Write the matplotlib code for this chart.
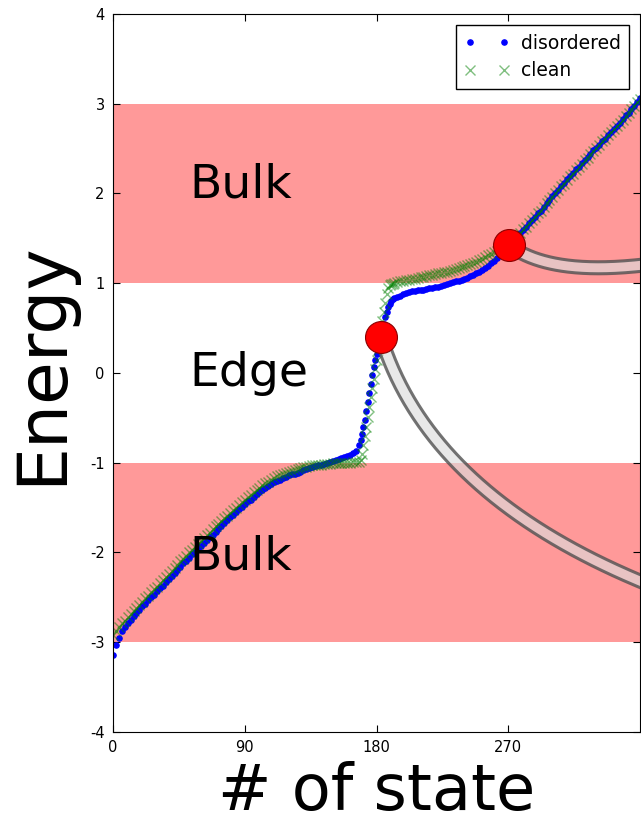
import numpy as np
import matplotlib
matplotlib.use("Agg")
import matplotlib.pyplot as plt
from matplotlib.patches import Polygon

# energies of each state
# lower bulk: states 0..166 every 2, edge: 168..191 every 1, upper bulk: 192..360 every 2
dis_low = [-3.14, -3.03, -2.95, -2.88, -2.83, -2.79, -2.75, -2.71, -2.67, -2.64,
           -2.60, -2.57, -2.53, -2.50, -2.47, -2.43, -2.40, -2.37, -2.33, -2.30,
           -2.26, -2.23, -2.19, -2.16, -2.12, -2.09, -2.06, -2.02, -1.99, -1.96,
           -1.93, -1.89, -1.86, -1.83, -1.80, -1.77, -1.74, -1.71, -1.67, -1.64,
           -1.61, -1.58, -1.55, -1.52, -1.49, -1.46, -1.43, -1.41, -1.38, -1.35,
           -1.33, -1.30, -1.28, -1.26, -1.24, -1.22, -1.20, -1.19, -1.17, -1.16,
           -1.14, -1.13, -1.12, -1.11, -1.10, -1.08, -1.07, -1.06, -1.05, -1.04,
           -1.03, -1.02, -1.01, -1.00, -0.99, -0.98, -0.97, -0.96, -0.95, -0.94,
           -0.92, -0.91, -0.89, -0.87]
dis_edge = [-0.80, -0.75, -0.68, -0.60, -0.52, -0.42, -0.32, -0.22, -0.12, -0.02,
            0.07, 0.14, 0.21, 0.28, 0.34, 0.40, 0.47, 0.55, 0.62, 0.68,
            0.73, 0.77, 0.80, 0.82]
dis_high = [0.83, 0.85, 0.86, 0.88, 0.89, 0.90, 0.91, 0.91, 0.92, 0.93,
            0.93, 0.94, 0.95, 0.95, 0.96, 0.96, 0.97, 0.98, 0.99, 1.00,
            1.01, 1.02, 1.03, 1.04, 1.05, 1.06, 1.08, 1.09, 1.11, 1.13,
            1.15, 1.17, 1.19, 1.22, 1.25, 1.28, 1.31, 1.34, 1.38, 1.42,
            1.45, 1.49, 1.52, 1.56, 1.59, 1.63, 1.67, 1.70, 1.74, 1.78,
            1.81, 1.85, 1.89, 1.93, 1.97, 2.01, 2.04, 2.08, 2.12, 2.16,
            2.19, 2.23, 2.27, 2.30, 2.34, 2.37, 2.41, 2.44, 2.48, 2.51,
            2.54, 2.58, 2.61, 2.65, 2.68, 2.72, 2.75, 2.79, 2.83, 2.87,
            2.90, 2.94, 2.98, 3.02, 3.06]

cln_low = [-2.92, -2.87, -2.83, -2.79, -2.76, -2.72, -2.69, -2.65, -2.62, -2.58,
           -2.55, -2.51, -2.48, -2.44, -2.41, -2.38, -2.34, -2.31, -2.27, -2.24,
           -2.21, -2.17, -2.14, -2.10, -2.07, -2.04, -2.00, -1.97, -1.94, -1.90,
           -1.87, -1.84, -1.81, -1.78, -1.74, -1.71, -1.68, -1.65, -1.62, -1.59,
           -1.56, -1.53, -1.50, -1.47, -1.44, -1.41, -1.38, -1.36, -1.33, -1.30,
           -1.28, -1.25, -1.23, -1.21, -1.19, -1.17, -1.15, -1.14, -1.12, -1.11,
           -1.10, -1.09, -1.08, -1.07, -1.06, -1.05, -1.05, -1.04, -1.03, -1.03,
           -1.02, -1.02, -1.01, -1.01, -1.01, -1.00, -1.00, -1.00, -1.00, -1.00,
           -1.00, -1.00, -0.99, -0.99]
cln_edge = [-0.99, -0.97, -0.90, -0.80, -0.70, -0.60, -0.49, -0.38, -0.27, -0.17,
            -0.07, 0.04, 0.15, 0.26, 0.37, 0.48, 0.58, 0.68, 0.78, 0.88,
            0.95, 0.98, 0.99, 0.99]
cln_high = [1.00, 1.01, 1.02, 1.03, 1.04, 1.04, 1.05, 1.05, 1.06, 1.07,
            1.07, 1.08, 1.09, 1.09, 1.10, 1.11, 1.11, 1.12, 1.13, 1.14,
            1.15, 1.16, 1.17, 1.18, 1.19, 1.20, 1.21, 1.23, 1.24, 1.26,
            1.27, 1.29, 1.31, 1.33, 1.35, 1.36, 1.38, 1.40, 1.42, 1.44,
            1.46, 1.49, 1.53, 1.56, 1.60, 1.63, 1.67, 1.70, 1.74, 1.78,
            1.81, 1.85, 1.89, 1.93, 1.96, 2.00, 2.04, 2.08, 2.11, 2.15,
            2.19, 2.22, 2.26, 2.30, 2.33, 2.37, 2.40, 2.44, 2.47, 2.51,
            2.54, 2.58, 2.61, 2.65, 2.68, 2.72, 2.75, 2.79, 2.82, 2.86,
            2.90, 2.94, 2.98, 3.02, 3.05]

states = np.concatenate([np.arange(0, 168, 2), np.arange(168, 192, 1), np.arange(192, 361, 2)])
disordered = np.array(dis_low + dis_edge + dis_high)
clean = np.array(cln_low + cln_edge + cln_high)

# highlighted states (red dots)
hl_state = [182.7, 270.2]
hl_energy = [0.40, 1.43]

# guide bands leaving the highlighted states: start, control, end (data units)
band_lo = [(183, 0.40), (218, -1.45), (380, -2.45)]
band_hi = [(270, 1.43), (300, 1.05), (375, 1.23)]

plt.rcParams['font.family'] = 'DejaVu Sans'
plt.rcParams['axes.unicode_minus'] = False

fig = plt.figure(figsize=(6.41, 8.22), dpi=100)
ax = fig.add_axes([0.1763, 0.1095, 0.8225, 0.8735])

ax.axhspan(1, 3, color='red', alpha=0.4, lw=0)
ax.axhspan(-3, -1, color='red', alpha=0.4, lw=0)

ax.plot(states, disordered, 'b.', markersize=7.5, label='disordered')
ax.plot(states, clean, 'x', color='green', alpha=0.5, markersize=7, mew=1, label='clean')

ax.set_xlim(0, 360)
ax.set_ylim(-4, 4)


def draw_band(ctrl, width=12):
    t = np.linspace(0, 1, 200)[:, None]
    p0, p1, p2 = [np.array(c) for c in ctrl]
    pts = (1 - t) ** 2 * p0 + 2 * t * (1 - t) * p1 + t ** 2 * p2
    disp = ax.transData.transform(pts)
    d = np.gradient(disp, axis=0)
    n = np.stack([-d[:, 1], d[:, 0]], axis=1)
    n /= np.linalg.norm(n, axis=1)[:, None]
    a = disp + n * width / 2
    b = disp - n * width / 2
    poly = Polygon(np.vstack([a, b[::-1]]), closed=True, transform=None,
                   facecolor=(0.86, 0.86, 0.86, 0.64), edgecolor='none', zorder=3)
    ax.add_patch(poly)
    poly.set_clip_path(ax.patch)
    for side in (a, b):
        ln, = ax.plot(side[:, 0], side[:, 1], transform=None, color='#505050',
                      alpha=0.8, lw=2.2, zorder=3.1)
        ln.set_clip_path(ax.patch)


draw_band(band_lo)
draw_band(band_hi)

ax.plot(hl_state, hl_energy, 'o', color='red', markersize=23, mec='#8b0000', mew=0.8, zorder=4)

ax.text(52, 1.96, 'Bulk', fontsize=34, va='baseline')
ax.text(52, -0.15, 'Edge', fontsize=34, va='baseline')
ax.text(52, -2.19, 'Bulk', fontsize=34, va='baseline')

ax.set_xticks([0, 90, 180, 270])
ax.set_yticks(range(-4, 5))
ax.tick_params(direction='in', top=True, right=True, labelsize=10.5, length=5, pad=6)
ax.set_xlabel('# of state', fontsize=46, labelpad=4)
ax.set_ylabel('Energy', fontsize=50)
ax.yaxis.set_label_coords(-0.072, 0.513)

ax.legend(loc='upper right', numpoints=2, fontsize=13.5, fancybox=False,
          framealpha=1, edgecolor='black', borderaxespad=0.6, handletextpad=0.6,
          handlelength=2.4, labelspacing=0.45, borderpad=0.45)

fig.savefig('out.png', dpi=100)
